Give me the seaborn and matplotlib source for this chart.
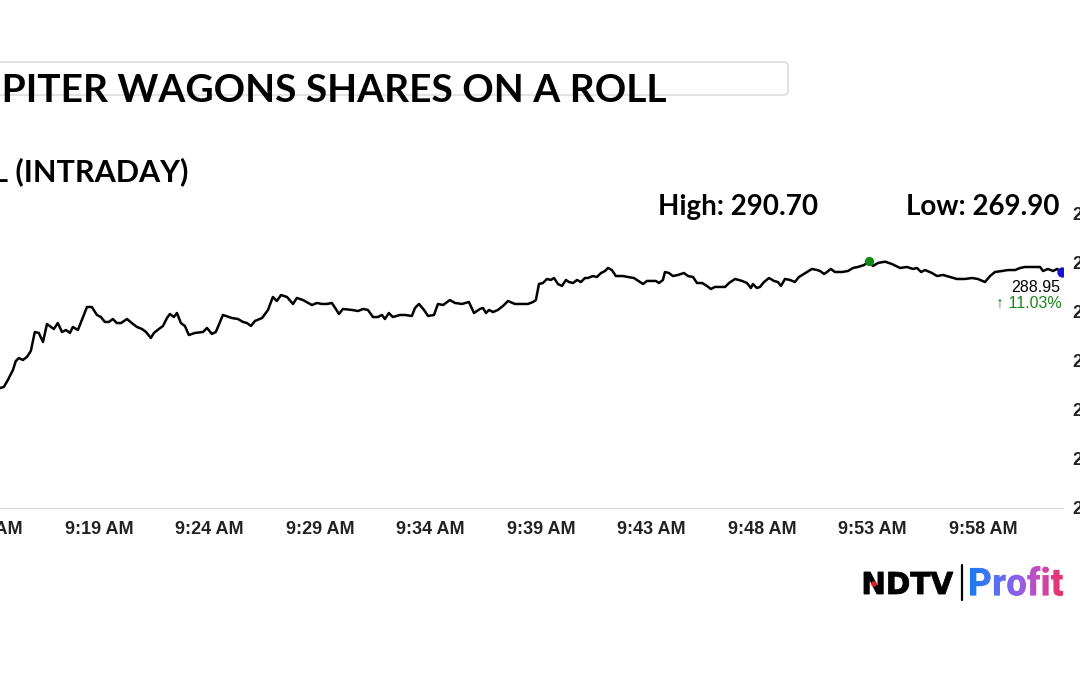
import numpy as np
import pandas as pd
import matplotlib.pyplot as plt
import seaborn as sns
from matplotlib.textpath import TextPath
from matplotlib.font_manager import FontProperties
from matplotlib.patches import PathPatch, FancyBboxPatch, Circle
from matplotlib.transforms import Affine2D
from matplotlib.colors import LinearSegmentedColormap

# === Data ===
title = "JUPITER WAGONS SHARES ON A ROLL"
subtitle = "JWL (INTRADAY)"
high_text = "High: 290.70"
low_text = "Low: 269.90"
last_text = "288.95"
change_text = "\u2191 11.03%"

# minutes after 9:00 AM
minutes = [
    16.06, 16.24, 16.42, 16.65, 16.78, 16.92, 17.10, 17.28, 17.46, 17.64,
    17.82, 18.01, 18.19, 18.37, 18.50, 18.68, 18.87, 19.05, 19.23, 19.36,
    19.59, 19.82, 20.00, 20.22, 20.45, 20.63, 20.81, 20.99, 21.17, 21.35,
    21.54, 21.81, 22.03, 22.26, 22.49, 22.67, 22.89, 23.03, 23.25, 23.44,
    23.62, 23.75, 23.93, 24.07, 24.25, 24.43, 24.61, 24.88, 25.25, 25.43,
    25.65, 25.83, 26.15, 26.56, 26.83, 27.06, 27.24, 27.42, 27.60, 27.92,
    28.19, 28.41, 28.59, 28.78, 29.05, 29.32, 29.50, 29.77, 30.18, 30.40,
    30.63, 30.86, 31.08, 31.26, 31.40, 31.58, 31.99, 32.26, 32.49, 32.71,
    32.94, 33.16, 33.35, 33.48, 33.66, 33.84, 34.16, 34.39, 34.70, 34.84,
    35.02, 35.25, 35.43, 35.70, 35.88, 36.11, 36.42, 36.65, 36.97, 37.28,
    37.51, 37.78, 37.92, 38.05, 38.19, 38.37, 38.59, 38.82, 39.05, 39.36,
    39.73, 39.95, 40.18, 40.31, 40.45, 40.63, 40.81, 40.99, 41.13, 41.31,
    41.49, 41.67, 41.81, 41.99, 42.17, 42.35, 42.53, 42.67, 42.89, 43.07,
    43.26, 43.44, 43.57, 43.75, 43.93, 44.25, 44.48, 44.75, 44.88, 45.16,
    45.34, 45.56, 45.74, 45.88, 46.06, 46.15, 46.33, 46.51, 46.74, 47.01,
    47.19, 47.42, 47.60, 47.83, 48.05, 48.23, 48.41, 48.64, 48.87, 49.05,
    49.32, 49.64, 49.86, 50.04, 50.13, 50.31, 50.45, 50.63, 50.86, 51.08,
    51.26, 51.40, 51.58, 51.81, 52.03, 52.21, 52.44, 52.58, 52.80, 53.03,
    53.17, 53.35, 53.48, 53.66, 53.84, 54.16, 54.43, 54.66, 54.88, 55.16,
    55.38, 55.56, 55.79, 56.11, 56.42, 56.79, 57.10, 57.37, 57.55, 57.74,
    57.92, 58.23, 58.46, 58.73, 59.05, 59.36, 59.73, 60.04, 60.31, 60.63,
    60.86, 61.08, 61.40, 61.67, 61.99, 62.22, 62.44, 62.76, 63.12, 63.26,
    63.48, 63.71, 63.89, 64.12,
]
prices = [
    277.20, 277.31, 278.02, 279.03, 279.95, 280.25, 280.05, 280.36, 280.97, 282.90,
    282.80, 281.88, 283.71, 283.41, 283.20, 283.81, 282.90, 283.10, 282.80, 283.41,
    283.10, 284.42, 285.44, 285.44, 284.63, 284.42, 283.92, 283.92, 284.22, 283.81,
    283.81, 284.22, 283.81, 283.41, 283.20, 282.90, 282.29, 282.80, 283.20, 283.51,
    284.32, 284.73, 284.42, 284.83, 283.81, 283.51, 282.59, 282.80, 282.90, 283.31,
    282.70, 282.90, 284.63, 284.32, 284.22, 283.92, 283.81, 283.51, 284.02, 284.32,
    285.14, 286.46, 286.05, 286.66, 286.46, 285.75, 286.36, 286.15, 285.64, 285.85,
    285.75, 285.75, 285.85, 285.24, 284.73, 285.24, 285.14, 285.03, 285.24, 285.14,
    284.42, 284.42, 284.63, 284.22, 284.83, 284.42, 284.63, 284.63, 284.53, 285.34,
    285.75, 285.14, 284.53, 284.63, 285.75, 285.64, 286.15, 285.85, 285.75, 285.95,
    284.83, 285.24, 285.34, 284.83, 285.14, 284.93, 285.14, 285.54, 286.05, 285.75,
    285.75, 285.75, 285.95, 286.15, 287.78, 287.88, 288.29, 288.19, 288.39, 287.78,
    287.58, 288.19, 287.98, 287.88, 288.19, 287.98, 288.39, 288.39, 288.59, 288.49,
    288.90, 289.10, 289.41, 289.20, 288.59, 288.59, 288.49, 288.39, 288.19, 287.78,
    288.09, 288.09, 288.09, 287.88, 288.19, 289.00, 288.90, 288.59, 288.70, 288.90,
    288.59, 288.49, 287.88, 287.88, 287.58, 287.27, 287.48, 287.48, 287.48, 287.88,
    288.29, 288.09, 287.88, 287.37, 287.78, 287.37, 287.48, 287.98, 288.39, 288.09,
    287.98, 287.58, 288.29, 288.19, 287.98, 288.49, 288.80, 289.00, 289.31, 289.20,
    289.10, 288.80, 289.00, 289.31, 289.00, 289.00, 289.10, 289.41, 289.51, 289.71,
    290.12, 289.61, 289.92, 290.05, 289.81, 289.41, 289.51, 289.31, 289.41, 289.00,
    289.20, 288.90, 288.59, 288.70, 288.49, 288.29, 288.29, 288.39, 288.29, 287.98,
    288.59, 289.00, 289.10, 289.20, 289.20, 289.41, 289.51, 289.51, 289.51, 289.10,
    289.31, 289.10, 289.31, 288.95,
]

tick_minutes = [14, 19, 24, 29, 34, 39, 44, 49, 54, 59, 64]
tick_labels = ["9:14 AM", "9:19 AM", "9:24 AM", "9:29 AM", "9:34 AM", "9:39 AM",
               "9:43 AM", "9:48 AM", "9:53 AM", "9:58 AM", ""]
y_ticks = [265, 270, 275, 280, 285, 290, 295]

# === Figure ===
sns.set_style("white")
plt.rcParams['font.family'] = ['Liberation Sans', 'DejaVu Sans']

W, H = 1080, 675
fig = plt.figure(figsize=(W / 100, H / 100), dpi=100)
fig.patch.set_facecolor("white")

ax = fig.add_axes([-60 / W, (H - 508) / H, 1123 / W, 295 / H])
df = pd.DataFrame({"minute": minutes, "price": prices})
sns.lineplot(data=df, x="minute", y="price", ax=ax, color="black", lw=1.8)

hi = df.loc[df["price"].idxmax()]
last = df.iloc[-1]
sns.scatterplot(x=[hi["minute"]], y=[hi["price"]], ax=ax, color="#138a13",
                s=45, linewidth=0, zorder=5)
sns.scatterplot(x=[last["minute"]], y=[last["price"]], ax=ax, color="#1414d2",
                s=55, linewidth=0, zorder=5)

ax.set_xlim(13.35, 64.16)
ax.set_ylim(265, 295)
ax.set_xticks(tick_minutes)
ax.set_xticklabels(tick_labels, ha="left")
ax.set_yticks(y_ticks)
ax.set_yticklabels([str(v) for v in y_ticks])
ax.yaxis.tick_right()
ax.tick_params(axis="x", length=6, color="#d0d0d0", width=1, pad=3,
               labelsize=13, labelcolor="#222222")
ax.tick_params(axis="y", length=0, pad=7, labelsize=13, labelcolor="#222222")
for lab in ax.get_xticklabels() + ax.get_yticklabels():
    lab.set_fontweight("bold")
ax.set_xlabel("")
ax.set_ylabel("")
for side in ["top", "left", "right"]:
    ax.spines[side].set_visible(False)
ax.spines["bottom"].set_color("#d8d8d8")
ax.spines["bottom"].set_linewidth(1)
ax.grid(False)

# === Overlay in pixel coords (y down) ===
ov = fig.add_axes([0, 0, 1, 1], zorder=10)
ov.set_xlim(0, W)
ov.set_ylim(H, 0)
ov.axis("off")

ov.add_patch(FancyBboxPatch((-10, 62), 798, 33,
                            boxstyle="round,pad=0,rounding_size=4",
                            fc="white", ec="#d6d6d6", lw=1, zorder=1))
ov.text(667, 102, title, ha="right", va="baseline", fontsize=28,
        fontweight="bold", family="Lato", color="black", zorder=2)
ov.text(188, 181, subtitle, ha="right", va="baseline", fontsize=22,
        fontweight="bold", family="Lato", color="black")
ov.text(658, 215, high_text, ha="left", va="baseline", fontsize=20,
        fontweight="bold", family="Lato", color="black")
ov.text(1060, 215, low_text, ha="right", va="baseline", fontsize=20,
        fontweight="bold", family="Lato", color="black")
ov.text(1060, 292, last_text, ha="right", va="baseline", fontsize=11.5,
        color="black")
ov.text(1062, 308, change_text, ha="right", va="baseline", fontsize=11.5,
        color="#1a861a", family=["Liberation Sans", "DejaVu Sans"])


# === NDTV | Profit logo ===
def fit_text(s, family, x0, x1, top, bottom, weight="bold"):
    fp = FontProperties(family=family, weight=weight)
    tp = TextPath((0, 0), s, size=100, prop=fp)
    ext = tp.get_extents()
    sx = (x1 - x0) / ext.width
    sy = (bottom - top) / ext.height
    tr = Affine2D().translate(-ext.x0, -ext.y1).scale(sx, -sy).translate(x0, top)
    return tr.transform_path(tp)


ndtv = PathPatch(fit_text("NDTV", "DejaVu Sans", 864, 953, 572, 594),
                 fc="black", ec="black", lw=0.6, transform=ov.transData, zorder=11)
ov.add_patch(ndtv)
ov.add_patch(Circle((874, 584), 2.8, fc="#e21b1b", ec="none", zorder=12))
ov.plot([962, 962], [565, 600], color="black", lw=1.6, zorder=11)

profit_path = fit_text("Profit", "Roboto", 970, 1063, 566, 596, weight="heavy")
profit = PathPatch(profit_path, fc="none", ec="none", transform=ov.transData)
ov.add_patch(profit)
cmap = LinearSegmentedColormap.from_list(
    "ndtv", ["#1a7af0", "#4f74f4", "#8d60ea", "#c84cb8", "#f02c62"])
grad = np.linspace(0, 1, 256).reshape(1, -1)
im = ov.imshow(grad, cmap=cmap, extent=[970, 1063, 597, 565], aspect="auto",
               zorder=11, interpolation="bilinear")
im.set_clip_path(profit)
ov.set_xlim(0, W)
ov.set_ylim(H, 0)

fig.savefig("out.png", dpi=100, facecolor="white")
